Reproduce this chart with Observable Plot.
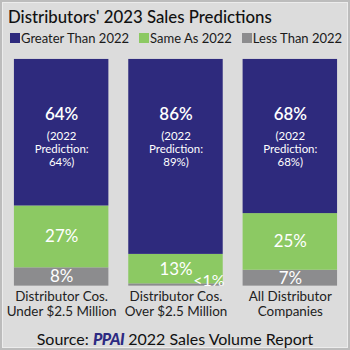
<!DOCTYPE html>
<html>
<head>
<meta charset="utf-8">
<script src="https://cdn.jsdelivr.net/npm/d3@7"></script>
<script src="https://cdn.jsdelivr.net/npm/@observablehq/plot@0.6"></script>
<style>
  html, body { margin: 0; padding: 0; background: #dcdcdc; }
  #wrap { position: relative; width: 350px; height: 350px; box-sizing: border-box;
    background: #dcdcdc; border: 2px solid #bcbcbc; box-shadow: inset 0 0 0 1px #ececec;
    font-family: "Lato", sans-serif; overflow: hidden; }
  #title { position: absolute; left: 6px; top: 4px; font-size: 16.8px; font-weight: 500; color: #111; white-space: nowrap; }
  #legend { position: absolute; left: 8px; top: 28px; font-size: 13px; color: #1a1a1a; white-space: nowrap; display: flex; align-items: center; }
  #legend span.sw { display: inline-block; width: 10px; height: 10px; margin-right: 1px; }
  #legend span.item { display: inline-flex; align-items: center; margin-right: 10px; }
  #chart { position: absolute; left: -2px; top: 46px; }
  #source { position: absolute; left: 0; width: 346px; top: 327px; text-align: center; font-size: 16px; color: #111; white-space: nowrap; }
  #source b { color: #2d2a82; font-weight: 900; font-style: italic; letter-spacing: -0.5px; }
</style>
</head>
<body>
<div id="wrap">
  <div id="title">Distributors' 2023 Sales Predictions</div>
  <div id="legend"></div>
  <div id="chart"></div>
  <div id="source">Source: <b>PPAI</b> 2022 Sales Volume Report</div>
</div>
<script>
const categories = ["Distributor Cos.\nUnder $2.5 Million", "Distributor Cos.\nOver $2.5 Million", "All Distributor\nCompanies"];
const series = ["Less Than 2022", "Same As 2022", "Greater Than 2022"];
const legendOrder = ["Greater Than 2022", "Same As 2022", "Less Than 2022"];
const colors = ["#8c8c8e", "#8cc963", "#2e2a7d"];
const greater = [64, 86, 68];
const same = [27, 13, 25];
const less = [8, 1, 7];
const lessLabels = ["8%", "<1%", "7%"];
const prediction2022 = [64, 89, 68];

const rows = [];
categories.forEach((c, i) => {
  rows.push({cat: c, series: series[0], value: less[i], label: lessLabels[i], idx: i});
  rows.push({cat: c, series: series[1], value: same[i], label: same[i] + "%", idx: i});
  rows.push({cat: c, series: series[2], value: greater[i], label: greater[i] + "%", idx: i,
             sub: "(2022\nPrediction:\n" + prediction2022[i] + "%)"});
});

const legend = document.getElementById("legend");
legendOrder.forEach(s => {
  const it = document.createElement("span"); it.className = "item";
  const sw = document.createElement("span"); sw.className = "sw";
  sw.style.background = colors[series.indexOf(s)];
  it.appendChild(sw); it.appendChild(document.createTextNode(s));
  legend.appendChild(it);
});

const stackOpts = {x: "cat", y: "value", z: "series", order: series, offset: "normalize"};
const only = (s, field, cond = () => true) => d => (d.series === s && cond(d)) ? d[field] : null;

const plot = Plot.plot({
  width: 350, height: 276,
  marginTop: 11, marginBottom: 37, marginLeft: 14, marginRight: 11,
  style: {background: "transparent", fontFamily: "Lato, sans-serif"},
  x: {domain: categories, paddingInner: 0.174, paddingOuter: 0, label: null},
  y: {axis: null, domain: [0, 1]},
  color: {domain: series, range: colors},
  marks: [
    Plot.barY(rows, Plot.stackY({...stackOpts, fill: "series"})),
    Plot.text(rows, Plot.stackY2({...stackOpts, text: only(series[2], "label"),
      fill: "white", fontSize: 17, fontWeight: 600, dy: 55})),
    Plot.text(rows, Plot.stackY2({...stackOpts, text: only(series[2], "sub"),
      fill: "white", fontSize: 11.5, lineHeight: 1.1, dy: 90})),
    Plot.text(rows, Plot.stackY({...stackOpts, text: only(series[1], "label"),
      fill: "white", fontSize: 17})),
    Plot.text(rows, Plot.stackY({...stackOpts, text: only(series[0], "label", d => d.idx !== 1),
      fill: "white", fontSize: 17, dy: 0})),
    Plot.text(rows, Plot.stackY({...stackOpts, text: only(series[0], "label", d => d.idx === 1),
      fill: "white", fontSize: 16, dx: 33, dy: -4})),
    Plot.axisX({tickSize: 0, tickPadding: 4, fontSize: 13.5, color: "#222", lineHeight: 1.12, label: null})
  ]
});
document.getElementById("chart").appendChild(plot);
</script>
</body>
</html>
